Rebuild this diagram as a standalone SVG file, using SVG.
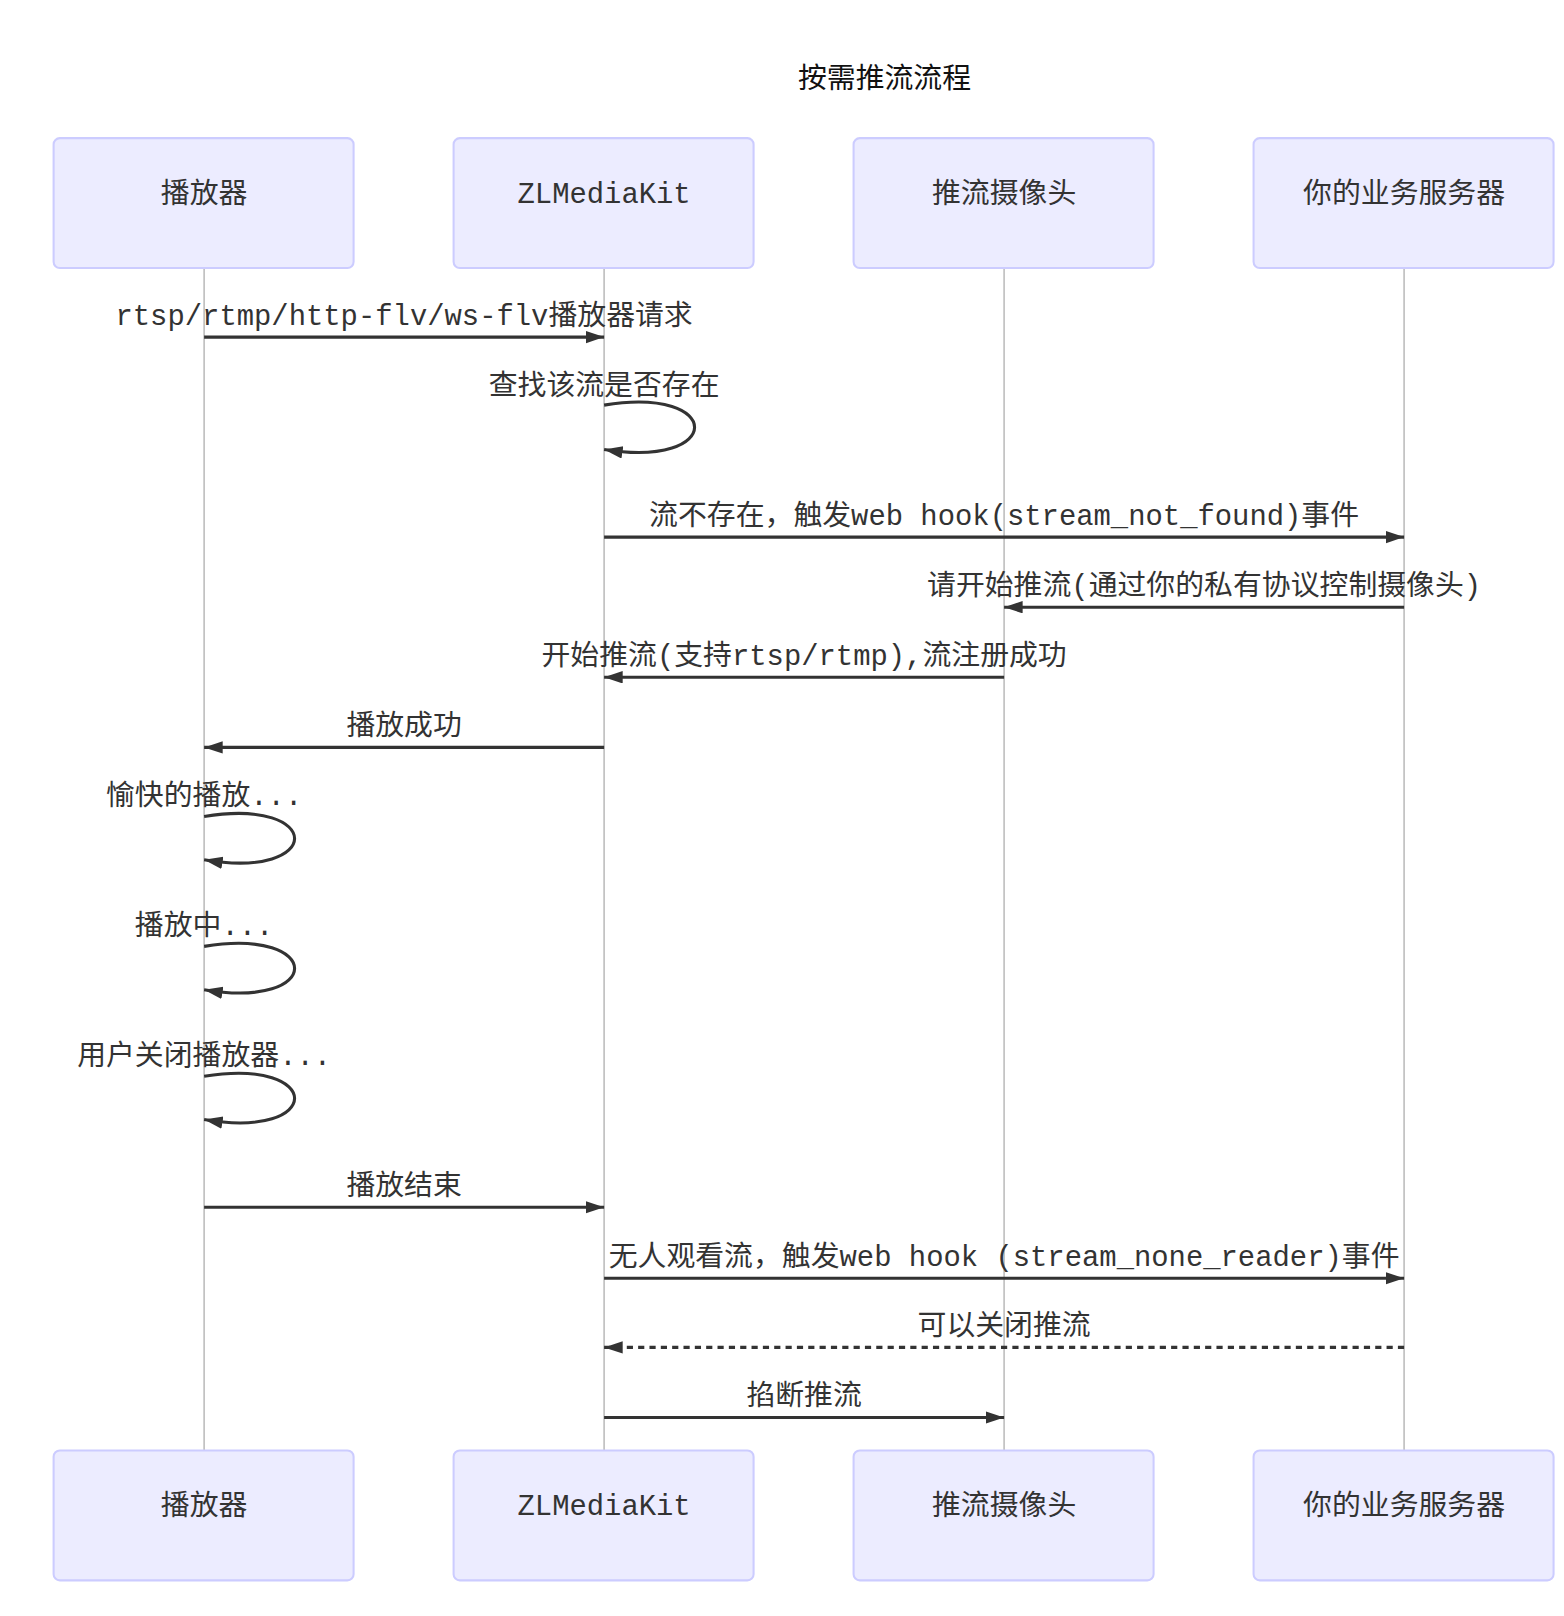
<svg xmlns="http://www.w3.org/2000/svg" width="1564" height="1616" viewBox="0 0 1564 1616">
<style>
.actor{fill:#ECECFF;stroke:#CCCCFF;stroke-width:2}
.atext{font-family:'Liberation Mono','Noto Sans CJK SC',monospace;font-size:28px;fill:#333;text-anchor:middle}
.life{stroke:#bbb;stroke-width:1.5}
.msg{stroke:#333;stroke-width:3;fill:none}
.dash{stroke-dasharray:6,5}
.mtext{font-family:'Liberation Mono','Noto Sans CJK SC',monospace;font-size:28px;fill:#333;text-anchor:middle}
.title{font-family:'Noto Sans CJK SC',sans-serif;font-size:28px;fill:#111;text-anchor:middle}
</style>
<defs>
<marker id="ah" markerUnits="userSpaceOnUse" markerWidth="20" markerHeight="14" refX="18" refY="6" orient="auto">
<path d="M0,0 L18,6 L0,12 z" fill="#333"/>
</marker>
</defs>
<rect width="1564" height="1616" fill="#fff"/>
<g transform="scale(1.0309)">
<text class="title" x="858" y="85">按需推流流程</text>
<g id="lifelines">
<line class="life" x1="198" y1="260" x2="198" y2="1407"/>
<line class="life" x1="586" y1="260" x2="586" y2="1407"/>
<line class="life" x1="974" y1="260" x2="974" y2="1407"/>
<line class="life" x1="1362" y1="260" x2="1362" y2="1407"/>
</g>
<g id="actor-player-top"><rect class="actor" x="52" y="134" width="291" height="126" rx="6"/><text class="atext" x="198" y="197">播放器</text></g>
<g id="actor-zlm-top"><rect class="actor" x="440" y="134" width="291" height="126" rx="6"/><text class="atext" x="586" y="197">ZLMediaKit</text></g>
<g id="actor-cam-top"><rect class="actor" x="828" y="134" width="291" height="126" rx="6"/><text class="atext" x="974" y="197">推流摄像头</text></g>
<g id="actor-srv-top"><rect class="actor" x="1216" y="134" width="291" height="126" rx="6"/><text class="atext" x="1362" y="197">你的业务服务器</text></g>
<g id="actor-player-bottom"><rect class="actor" x="52" y="1407" width="291" height="126" rx="6"/><text class="atext" x="198" y="1470">播放器</text></g>
<g id="actor-zlm-bottom"><rect class="actor" x="440" y="1407" width="291" height="126" rx="6"/><text class="atext" x="586" y="1470">ZLMediaKit</text></g>
<g id="actor-cam-bottom"><rect class="actor" x="828" y="1407" width="291" height="126" rx="6"/><text class="atext" x="974" y="1470">推流摄像头</text></g>
<g id="actor-srv-bottom"><rect class="actor" x="1216" y="1407" width="291" height="126" rx="6"/><text class="atext" x="1362" y="1470">你的业务服务器</text></g>
<g id="connectors">
<line class="msg" x1="198" y1="327" x2="586" y2="327" marker-end="url(#ah)"/>
<text class="mtext" x="392" y="315">rtsp/rtmp/http-flv/ws-flv播放器请求</text>
<path class="msg" d="M586,393 C703,374 703,455 586,436" marker-end="url(#ah)"/>
<text class="mtext" x="586" y="383">查找该流是否存在</text>
<line class="msg" x1="586" y1="521" x2="1362" y2="521" marker-end="url(#ah)"/>
<text class="mtext" x="974" y="509">流不存在，触发web hook(stream_not_found)事件</text>
<line class="msg" x1="1362" y1="589" x2="974" y2="589" marker-end="url(#ah)"/>
<text class="mtext" x="1168" y="577">请开始推流(通过你的私有协议控制摄像头)</text>
<line class="msg" x1="974" y1="657" x2="586" y2="657" marker-end="url(#ah)"/>
<text class="mtext" x="780" y="645">开始推流(支持rtsp/rtmp),流注册成功</text>
<line class="msg" x1="586" y1="725" x2="198" y2="725" marker-end="url(#ah)"/>
<text class="mtext" x="392" y="713">播放成功</text>
<path class="msg" d="M198,792 C315,773 315,854 198,834" marker-end="url(#ah)"/>
<text class="mtext" x="198" y="781">愉快的播放...</text>
<path class="msg" d="M198,918 C315,899 315,980 198,960" marker-end="url(#ah)"/>
<text class="mtext" x="198" y="907">播放中...</text>
<path class="msg" d="M198,1044 C315,1025 315,1106 198,1086" marker-end="url(#ah)"/>
<text class="mtext" x="198" y="1033">用户关闭播放器...</text>
<line class="msg" x1="198" y1="1171" x2="586" y2="1171" marker-end="url(#ah)"/>
<text class="mtext" x="392" y="1159">播放结束</text>
<line class="msg" x1="586" y1="1240" x2="1362" y2="1240" marker-end="url(#ah)"/>
<text class="mtext" x="974" y="1228">无人观看流，触发web hook (stream_none_reader)事件</text>
<line class="msg dash" x1="1362" y1="1307" x2="586" y2="1307" marker-end="url(#ah)"/>
<text class="mtext" x="974" y="1295">可以关闭推流</text>
<line class="msg" x1="586" y1="1375" x2="974" y2="1375" marker-end="url(#ah)"/>
<text class="mtext" x="780" y="1363">掐断推流</text>
</g>
</g>
</svg>
